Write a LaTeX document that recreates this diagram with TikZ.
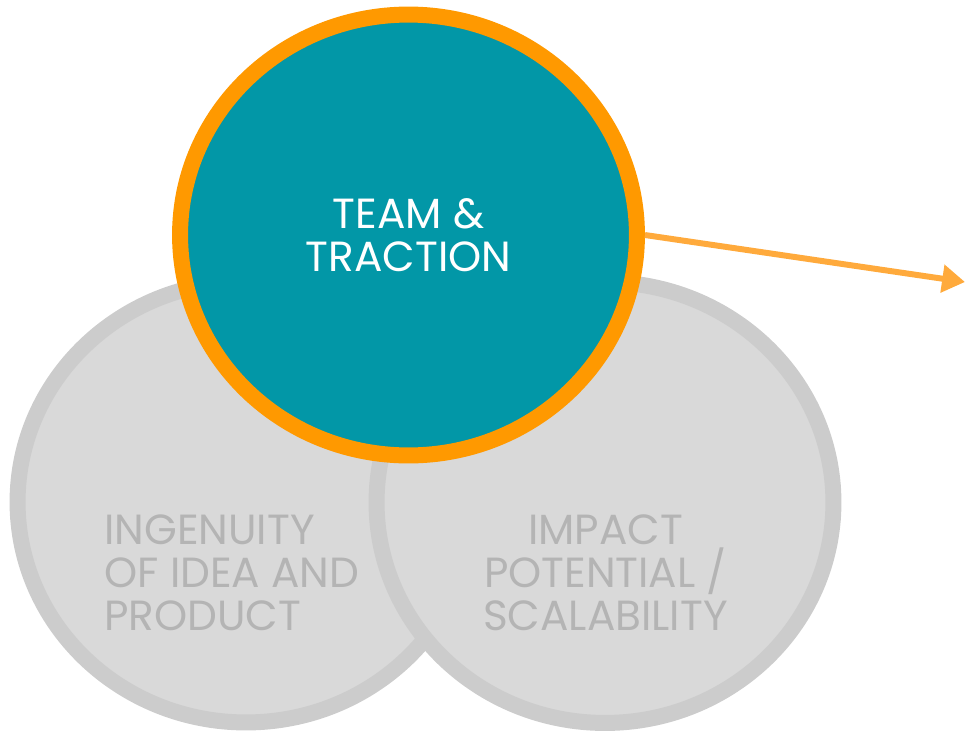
\documentclass[tikz,border=0pt]{standalone}
\usepackage{fontspec}
\setmainfont{Poppins}
\usepackage{tikz}
\usetikzlibrary{shapes.geometric,arrows.meta}
\definecolor{tealfill}{HTML}{0297A7}
\definecolor{ringorange}{HTML}{FF9900}
\definecolor{arroworange}{HTML}{FFAA3C}
\definecolor{greyfill}{HTML}{D9D9D9}
\definecolor{greyring}{HTML}{CCCCCC}
\definecolor{greytext}{HTML}{B4B4B4}
\tikzset{
  bubble/.style={ellipse, inner sep=0pt, minimum width=9.14cm, minimum height=8.82cm, line width=0.32cm},
  greybubble/.style={bubble, draw=greyring, fill=greyfill},
  topbubble/.style={bubble, draw=ringorange, fill=tealfill, text=white, align=center},
  label/.style={text=greytext, inner sep=0pt},
  bigtext/.style={font=\fontsize{24pt}{24.6pt}\selectfont}
}

\begin{document}
\begin{tikzpicture}[x=0.02cm, y=-0.02cm]
  \useasboundingbox (0,0) rectangle (965,731);
  \node (I) [greybubble] at (246,502) {};
  \node (P) [greybubble] at (605,502.5) {};
  \node (T) [topbubble, bigtext] at (408.5,235) {TEAM \&\\TRACTION};
  \node (Itext) [label, bigtext, anchor=west, align=left] at (104,573) {INGENUITY\\OF IDEA AND\\PRODUCT};
  \node (Ptext) [label, bigtext, align=center] at (605.5,573) {IMPACT\\POTENTIAL /\\SCALABILITY};
  \coordinate (tip) at (965,282);
  \draw[arroworange, line width=3.4pt, -{Triangle[length=13pt, width=15.4pt]}] (T.east) -- (tip);
\end{tikzpicture}
\end{document}
